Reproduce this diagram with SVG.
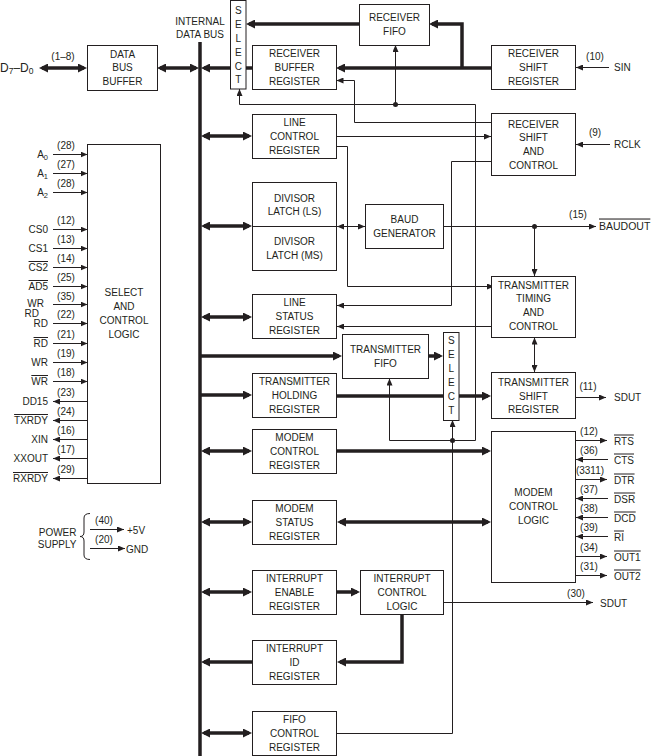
<svg xmlns="http://www.w3.org/2000/svg" width="654" height="756" viewBox="0 0 654 756">
<style>
.box{fill:#fff;stroke:#231f20;stroke-width:1}
.t{font-family:"Liberation Sans",Arial,sans-serif;font-size:10px;fill:#231f20;text-anchor:middle}
.l{font-family:"Liberation Sans",Arial,sans-serif;font-size:10px;fill:#231f20;text-anchor:end}
.r{font-family:"Liberation Sans",Arial,sans-serif;font-size:10px;fill:#231f20;text-anchor:start}
.ov{text-decoration:overline}
.thin{stroke:#231f20;stroke-width:1;fill:none}
.thick{stroke:#231f20;stroke-width:3.5;fill:none}
.dot{fill:#231f20}
</style>
<defs>
<marker id="ah" viewBox="0 0 7 6" refX="7" refY="3" markerWidth="7" markerHeight="6" markerUnits="userSpaceOnUse" orient="auto-start-reverse"><path d="M0,0 L7,3 L0,6 z" fill="#231f20"/></marker>
<marker id="AH" viewBox="0 0 9 9" refX="6" refY="4.5" markerWidth="9" markerHeight="9" markerUnits="userSpaceOnUse" orient="auto-start-reverse"><path d="M0,0 L9,4.5 L0,9 z" fill="#231f20"/></marker>
</defs>

<g id="connectors">
<line class="thick" x1="200" y1="42" x2="200" y2="756"/>
<path class="thick" d="M42,68 H84" marker-start="url(#AH)" marker-end="url(#AH)"/>
<path class="thick" d="M160,68 H196" marker-start="url(#AH)" marker-end="url(#AH)"/>
<path class="thick" d="M230,68 H204" marker-end="url(#AH)"/>
<path class="thick" d="M246,68 H252"/>
<path class="thick" d="M359,24 H249" marker-end="url(#AH)"/>
<path class="thick" d="M491,68 H339" marker-end="url(#AH)"/>
<path class="thick" d="M462,68 V24 H432" marker-end="url(#AH)"/>
<path class="thick" d="M204,136 H249" marker-start="url(#AH)" marker-end="url(#AH)"/>
<path class="thick" d="M204,226 H249" marker-start="url(#AH)" marker-end="url(#AH)"/>
<path class="thick" d="M204,317 H249" marker-start="url(#AH)" marker-end="url(#AH)"/>
<path class="thick" d="M200,356 H339" marker-end="url(#AH)"/>
<path class="thick" d="M428,356 H440" marker-end="url(#AH)"/>
<path class="thick" d="M200,395 H249" marker-end="url(#AH)"/>
<path class="thick" d="M336,396 H488" marker-end="url(#AH)"/>
<path class="thick" d="M204,451 H249" marker-start="url(#AH)" marker-end="url(#AH)"/>
<path class="thick" d="M336,451 H488" marker-end="url(#AH)"/>
<path class="thick" d="M204,522 H249" marker-start="url(#AH)" marker-end="url(#AH)"/>
<path class="thick" d="M340,522 H488" marker-start="url(#AH)" marker-end="url(#AH)"/>
<path class="thick" d="M204,592 H249" marker-start="url(#AH)" marker-end="url(#AH)"/>
<path class="thick" d="M336,592 H357" marker-end="url(#AH)"/>
<path class="thick" d="M402,614 V662 H340" marker-end="url(#AH)"/>
<path class="thick" d="M252,662 H204" marker-end="url(#AH)"/>
<path class="thick" d="M204,733 H249" marker-start="url(#AH)" marker-end="url(#AH)"/>
<path class="thin" d="M475.5,440.5 V104.5 H239.5 V89" marker-end="url(#ah)"/>
<path class="thin" d="M395.5,104.5 V45" marker-end="url(#ah)"/>
<circle class="dot" cx="395.5" cy="104.5" r="2.5"/>
<path class="thin" d="M491,122.5 H354.5 V80.5 H336.5" marker-end="url(#ah)"/>
<path class="thin" d="M336.5,136.5 H491" marker-end="url(#ah)"/>
<path class="thin" d="M336.5,146.5 H347.5 V286.5 H494" marker-end="url(#ah)"/>
<path class="thin" d="M491,161.5 H451.5 V305.5 H337" marker-end="url(#ah)"/>
<path class="thin" d="M491,326.5 H337" marker-end="url(#ah)"/>
<path class="thin" d="M337,226.5 H365" marker-start="url(#ah)" marker-end="url(#ah)"/>
<path class="thin" d="M443.5,226.5 H596" marker-end="url(#ah)"/>
<circle class="dot" cx="534.5" cy="226.5" r="2.5"/>
<path class="thin" d="M534.5,226.5 V276" marker-end="url(#ah)"/>
<path class="thin" d="M534.5,337.5 V372" marker-start="url(#ah)" marker-end="url(#ah)"/>
<path class="thin" d="M609,67.5 H576" marker-end="url(#ah)"/>
<path class="thin" d="M610,144.5 H576" marker-end="url(#ah)"/>
<path class="thin" d="M575.5,397.5 H606" marker-end="url(#ah)"/>
<path class="thin" d="M336.5,733.5 H452.5 V420" marker-end="url(#ah)"/>
<path class="thin" d="M475.5,440.5 H389.5 V378.5" marker-end="url(#ah)"/>
<circle class="dot" cx="452.5" cy="440.5" r="2.5"/>
<path class="thin" d="M443.5,602.5 H593" marker-end="url(#ah)"/>
</g>

<g id="internal-data-bus-label">
<text class="t" x="200" y="24.5">INTERNAL</text>
<text class="t" x="200" y="38">DATA BUS</text>
</g>

<g id="d7-d0">
<text class="r" x="0" y="72" style="font-size:12px">D<tspan font-size="8.5" dy="2">7</tspan><tspan dy="-2">–D</tspan><tspan font-size="8.5" dy="2">0</tspan></text>
<text class="t" x="63" y="60">(1–8)</text>
</g>

<g id="data-bus-buffer">
<rect class="box" x="87.5" y="45.5" width="70" height="45"/>
<text class="t" x="122.5" y="57.5">DATA</text>
<text class="t" x="122.5" y="71">BUS</text>
<text class="t" x="122.5" y="85">BUFFER</text>
</g>

<g id="select-rx">
<rect class="box" x="230.5" y="0.5" width="15.5" height="88.5"/>
<text class="t" x="238.3" y="14">S</text>
<text class="t" x="238.3" y="27.9">E</text>
<text class="t" x="238.3" y="41.7">L</text>
<text class="t" x="238.3" y="55.6">E</text>
<text class="t" x="238.3" y="69.5">C</text>
<text class="t" x="238.3" y="83.3">T</text>
</g>

<g id="receiver-fifo">
<rect class="box" x="359.5" y="4.5" width="70" height="41"/>
<text class="t" x="394.5" y="21">RECEIVER</text>
<text class="t" x="394.5" y="35">FIFO</text>
</g>

<g id="receiver-buffer-register">
<rect class="box" x="252.5" y="45.5" width="84" height="44"/>
<text class="t" x="294.5" y="57.4">RECEIVER</text>
<text class="t" x="294.5" y="71.1">BUFFER</text>
<text class="t" x="294.5" y="84.8">REGISTER</text>
</g>

<g id="receiver-shift-register">
<rect class="box" x="491.5" y="45.5" width="84" height="44"/>
<text class="t" x="533.5" y="57.4">RECEIVER</text>
<text class="t" x="533.5" y="71.1">SHIFT</text>
<text class="t" x="533.5" y="84.8">REGISTER</text>
<text class="t" x="595" y="59.5">(10)</text>
<text class="r" x="614" y="71">SIN</text>
</g>

<g id="line-control-register">
<rect class="box" x="252.5" y="114.5" width="84" height="44"/>
<text class="t" x="294.5" y="126.4">LINE</text>
<text class="t" x="294.5" y="140.1">CONTROL</text>
<text class="t" x="294.5" y="153.8">REGISTER</text>
</g>

<g id="receiver-shift-and-control">
<rect class="box" x="491.5" y="113.5" width="84" height="62"/>
<text class="t" x="533.5" y="127.5">RECEIVER</text>
<text class="t" x="533.5" y="141.2">SHIFT</text>
<text class="t" x="533.5" y="154.9">AND</text>
<text class="t" x="533.5" y="168.6">CONTROL</text>
<text class="t" x="595" y="136">(9)</text>
<text class="r" x="614" y="148">RCLK</text>
</g>

<g id="divisor-latch">
<rect class="box" x="252.5" y="182.5" width="84" height="88"/>
<line class="thin" x1="252.5" y1="226.5" x2="336.5" y2="226.5"/>
<text class="t" x="294.5" y="201.7">DIVISOR</text>
<text class="t" x="294.5" y="215">LATCH (LS)</text>
<text class="t" x="294.5" y="245.3">DIVISOR</text>
<text class="t" x="294.5" y="258.6">LATCH (MS)</text>
</g>

<g id="baud-generator">
<rect class="box" x="365.5" y="204.5" width="78" height="44"/>
<text class="t" x="404.5" y="223.2">BAUD</text>
<text class="t" x="404.5" y="237">GENERATOR</text>
<text class="t" x="578" y="218">(15)</text>
<text class="r ov" x="599" y="229.5" style="font-size:10.5px">BAUDOUT</text>
</g>

<g id="line-status-register">
<rect class="box" x="252.5" y="294.5" width="84" height="44"/>
<text class="t" x="294.5" y="306.4">LINE</text>
<text class="t" x="294.5" y="320.1">STATUS</text>
<text class="t" x="294.5" y="333.8">REGISTER</text>
</g>

<g id="transmitter-timing-and-control">
<rect class="box" x="491.5" y="276.5" width="84" height="61"/>
<text class="t" x="533.5" y="288.5">TRANSMITTER</text>
<text class="t" x="533.5" y="302.2">TIMING</text>
<text class="t" x="533.5" y="315.9">AND</text>
<text class="t" x="533.5" y="329.6">CONTROL</text>
</g>

<g id="transmitter-fifo">
<rect class="box" x="342.5" y="334.5" width="86" height="44"/>
<text class="t" x="385.5" y="352.7">TRANSMITTER</text>
<text class="t" x="385.5" y="366.7">FIFO</text>
</g>

<g id="select-tx">
<rect class="box" x="443.5" y="332.5" width="15.5" height="88"/>
<text class="t" x="451.3" y="344">S</text>
<text class="t" x="451.3" y="358">E</text>
<text class="t" x="451.3" y="372.1">L</text>
<text class="t" x="451.3" y="386.2">E</text>
<text class="t" x="451.3" y="400.3">C</text>
<text class="t" x="451.3" y="414.3">T</text>
</g>

<g id="transmitter-holding-register">
<rect class="box" x="252.5" y="373.5" width="84" height="44"/>
<text class="t" x="294.5" y="385.4">TRANSMITTER</text>
<text class="t" x="294.5" y="399.1">HOLDING</text>
<text class="t" x="294.5" y="412.8">REGISTER</text>
</g>

<g id="transmitter-shift-register">
<rect class="box" x="491.5" y="372.5" width="84" height="46"/>
<text class="t" x="533.5" y="386">TRANSMITTER</text>
<text class="t" x="533.5" y="399.7">SHIFT</text>
<text class="t" x="533.5" y="413.4">REGISTER</text>
<text class="t" x="588" y="390">(11)</text>
<text class="r" x="614" y="401">SDUT</text>
</g>

<g id="modem-control-register">
<rect class="box" x="252.5" y="429.5" width="84" height="44"/>
<text class="t" x="294.5" y="441.4">MODEM</text>
<text class="t" x="294.5" y="455.1">CONTROL</text>
<text class="t" x="294.5" y="468.8">REGISTER</text>
</g>

<g id="modem-control-logic">
<rect class="box" x="491.5" y="431.5" width="84" height="151"/>
<text class="t" x="533.5" y="496.3">MODEM</text>
<text class="t" x="533.5" y="510">CONTROL</text>
<text class="t" x="533.5" y="523.7">LOGIC</text>
</g>

<g id="modem-pins">
<path class="thin" d="M575.5,440.5 H607" marker-end="url(#ah)"/>
<text class="t" x="589" y="435">(12)</text><text class="r ov" x="614" y="444.5">RTS</text>
<path class="thin" d="M608,459.5 H576" marker-end="url(#ah)"/>
<text class="t" x="589" y="454">(36)</text><text class="r ov" x="614" y="463.5">CTS</text>
<path class="thin" d="M575.5,479.5 H607" marker-end="url(#ah)"/>
<text class="t" x="590" y="474">(3311)</text><text class="r ov" x="614" y="483.5">DTR</text>
<path class="thin" d="M608,498.5 H576" marker-end="url(#ah)"/>
<text class="t" x="589" y="493">(37)</text><text class="r ov" x="614" y="502.5">DSR</text>
<path class="thin" d="M608,517.5 H576" marker-end="url(#ah)"/>
<text class="t" x="589" y="512">(38)</text><text class="r ov" x="614" y="521.5">DCD</text>
<path class="thin" d="M608,536.5 H576" marker-end="url(#ah)"/>
<text class="t" x="589" y="531">(39)</text><text class="r ov" x="614" y="540.5">RI</text>
<path class="thin" d="M575.5,556.5 H607" marker-end="url(#ah)"/>
<text class="t" x="589" y="551">(34)</text><text class="r ov" x="614" y="560.5">OUT1</text>
<path class="thin" d="M575.5,575.5 H607" marker-end="url(#ah)"/>
<text class="t" x="589" y="570">(31)</text><text class="r ov" x="614" y="579.5">OUT2</text>
</g>

<g id="modem-status-register">
<rect class="box" x="252.5" y="500.5" width="84" height="44"/>
<text class="t" x="294.5" y="512.4">MODEM</text>
<text class="t" x="294.5" y="526.1">STATUS</text>
<text class="t" x="294.5" y="539.8">REGISTER</text>
</g>

<g id="interrupt-enable-register">
<rect class="box" x="252.5" y="570.5" width="84" height="44"/>
<text class="t" x="294.5" y="582.4">INTERRUPT</text>
<text class="t" x="294.5" y="596.1">ENABLE</text>
<text class="t" x="294.5" y="609.8">REGISTER</text>
</g>

<g id="interrupt-control-logic">
<rect class="box" x="360.5" y="570.5" width="83" height="44"/>
<text class="t" x="402" y="582.4">INTERRUPT</text>
<text class="t" x="402" y="596.1">CONTROL</text>
<text class="t" x="402" y="609.8">LOGIC</text>
<text class="t" x="576" y="596.5">(30)</text>
<text class="r" x="600" y="606.5">SDUT</text>
</g>

<g id="interrupt-id-register">
<rect class="box" x="252.5" y="640.5" width="84" height="44"/>
<text class="t" x="294.5" y="652.4">INTERRUPT</text>
<text class="t" x="294.5" y="666.1">ID</text>
<text class="t" x="294.5" y="679.8">REGISTER</text>
</g>

<g id="fifo-control-register">
<rect class="box" x="252.5" y="711.5" width="84" height="44"/>
<text class="t" x="294.5" y="723.4">FIFO</text>
<text class="t" x="294.5" y="737.1">CONTROL</text>
<text class="t" x="294.5" y="750.8">REGISTER</text>
</g>

<g id="select-and-control-logic">
<rect class="box" x="87.5" y="144.5" width="73" height="339"/>
<text class="t" x="124" y="295.7">SELECT</text>
<text class="t" x="124" y="310">AND</text>
<text class="t" x="124" y="324">CONTROL</text>
<text class="t" x="124" y="338.3">LOGIC</text>
</g>

<g id="left-pins">
<path class="thin" d="M53,154.5 H87.5" marker-end="url(#ah)"/><text class="t" x="66" y="149">(28)</text>
<text class="l" x="48" y="158">A<tspan font-size="7.5" dy="2">0</tspan></text>
<path class="thin" d="M53,173.5 H87.5" marker-end="url(#ah)"/><text class="t" x="66" y="168">(27)</text>
<text class="l" x="48" y="177">A<tspan font-size="7.5" dy="2">1</tspan></text>
<path class="thin" d="M53,192.5 H87.5" marker-end="url(#ah)"/><text class="t" x="66" y="187">(28)</text>
<text class="l" x="48" y="196">A<tspan font-size="7.5" dy="2">2</tspan></text>
<path class="thin" d="M53,229.5 H87.5" marker-end="url(#ah)"/><text class="t" x="66" y="224">(12)</text>
<text class="l" x="48" y="233">CS0</text>
<path class="thin" d="M53,248.5 H87.5" marker-end="url(#ah)"/><text class="t" x="66" y="243">(13)</text>
<text class="l" x="48" y="252">CS1</text>
<path class="thin" d="M53,267.5 H87.5" marker-end="url(#ah)"/><text class="t" x="66" y="262">(14)</text>
<text class="l ov" x="48" y="271">CS2</text>
<path class="thin" d="M53,286.5 H87.5" marker-end="url(#ah)"/><text class="t" x="66" y="281">(25)</text>
<text class="l ov" x="48" y="290">AD5</text>
<path class="thin" d="M53,304.5 H87.5" marker-end="url(#ah)"/><text class="t" x="66" y="300">(35)</text>
<text class="l" x="44" y="307">WR</text>
<text class="l" x="39" y="317">RD</text>
<path class="thin" d="M53,323.5 H87.5" marker-end="url(#ah)"/><text class="t" x="66" y="318">(22)</text>
<text class="l" x="48" y="327">RD</text>
<path class="thin" d="M53,343.5 H87.5" marker-end="url(#ah)"/><text class="t" x="66" y="338">(21)</text>
<text class="l ov" x="48" y="347">RD</text>
<path class="thin" d="M53,362.5 H87.5" marker-end="url(#ah)"/><text class="t" x="66" y="357">(19)</text>
<text class="l" x="48" y="366">WR</text>
<path class="thin" d="M53,381.5 H87.5" marker-end="url(#ah)"/><text class="t" x="66" y="376">(18)</text>
<text class="l ov" x="48" y="385">WR</text>
<path class="thin" d="M87.5,401.5 H53" marker-end="url(#ah)"/><text class="t" x="66" y="396">(23)</text>
<text class="l" x="48" y="405">DD15</text>
<path class="thin" d="M87.5,420.5 H53" marker-end="url(#ah)"/><text class="t" x="66" y="415">(24)</text>
<text class="l ov" x="48" y="424">TXRDY</text>
<path class="thin" d="M87.5,439.5 H53" marker-end="url(#ah)"/><text class="t" x="66" y="434">(16)</text>
<text class="l" x="48" y="443">XIN</text>
<path class="thin" d="M87.5,458.5 H53" marker-end="url(#ah)"/><text class="t" x="66" y="453">(17)</text>
<text class="l" x="48" y="462">XXOUT</text>
<path class="thin" d="M87.5,478.5 H53" marker-end="url(#ah)"/><text class="t" x="66" y="473">(29)</text>
<text class="l ov" x="48" y="482">RXRDY</text>
</g>

<g id="power-supply">
<text class="l" x="76.5" y="535.5">POWER</text>
<text class="l" x="76.5" y="547.5">SUPPLY</text>
<path class="thin" d="M90,513.5 Q84,513.5 84,518 V532 Q84,536.5 80,536.5 Q84,536.5 84,541 V555 Q84,559.5 90,559.5"/>
<text class="t" x="104" y="523.5">(40)</text>
<path class="thin" d="M90,529.5 H124" marker-end="url(#ah)"/>
<text class="r" x="127" y="533.5">+5V</text>
<text class="t" x="104" y="542.5">(20)</text>
<path class="thin" d="M90,548.5 H125" marker-end="url(#ah)"/>
<text class="r" x="126" y="552.5">GND</text>
</g>
</svg>
